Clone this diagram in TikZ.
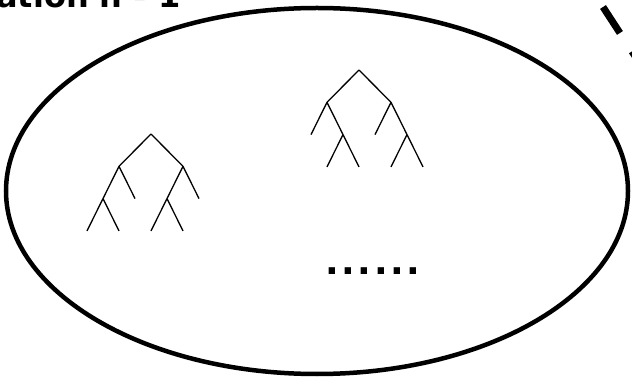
\documentclass[tikz,border=0pt]{standalone}
\usepackage{fontspec}
\setmainfont{DejaVu Sans}
\usetikzlibrary{shapes.geometric}

\begin{document}
\begin{tikzpicture}[
    x=1pt, y=-1pt,
    population/.style = {ellipse, draw, line width=4.5pt, inner sep=0pt,
                         minimum width=622pt, minimum height=366pt},
    treeedge/.style   = {line width=1.3pt, level distance=32.3pt,
                         level 1/.style={sibling distance=64pt},
                         level 2/.style={sibling distance=32pt},
                         level 3/.style={sibling distance=32pt}},
    genlabel/.style   = {font=\fontsize{32}{36}\selectfont\bfseries,
                         inner sep=0pt, anchor=base west},
    etcdots/.style    = {font=\fontsize{36}{40}\selectfont\bfseries,
                         inner sep=0pt, anchor=base west},
    link/.style       = {line width=7pt, dash pattern=on 31pt off 22pt}
]

% --- Frame (cuts the title and the link at the edges) -----------------------
\clip (0,0) rectangle (632,379);

% --- Population ------------------------------------------------------------
\node[genlabel]   (title) at (-4,8) {ation n - 1};
\node[population] (pop)   at (317,191) {};

% --- Trees -----------------------------------------------------------------
\draw[treeedge] (151,134) coordinate (treeA)
  child {coordinate (treeA-l)
    child {coordinate (treeA-ll)
      child {coordinate (treeA-lll)}
      child {coordinate (treeA-llr)}}
    child {coordinate (treeA-lr)}}
  child {coordinate (treeA-r)
    child {coordinate (treeA-rl)
      child {coordinate (treeA-rll)}
      child {coordinate (treeA-rlr)}}
    child {coordinate (treeA-rr)}};

\draw[treeedge] (359,70) coordinate (treeB)
  child {coordinate (treeB-l)
    child {coordinate (treeB-ll)}
    child {coordinate (treeB-lr)
      child {coordinate (treeB-lrl)}
      child {coordinate (treeB-lrr)}}}
  child {coordinate (treeB-r)
    child {coordinate (treeB-rl)}
    child {coordinate (treeB-rr)
      child {coordinate (treeB-rrl)}
      child {coordinate (treeB-rrr)}}};

\node[etcdots] (more) at (325,275)
  {.\hspace{2.6pt}.\hspace{2.6pt}.\hspace{2.6pt}.\hspace{2.6pt}.\hspace{2.6pt}.};

% --- Link leaving to the right ---------------------------------------------
\coordinate (linkfrom) at (603,7);
\coordinate (linkto)   at (680,125);
\draw[link] (linkfrom) -- (linkto);

\end{tikzpicture}
\end{document}
